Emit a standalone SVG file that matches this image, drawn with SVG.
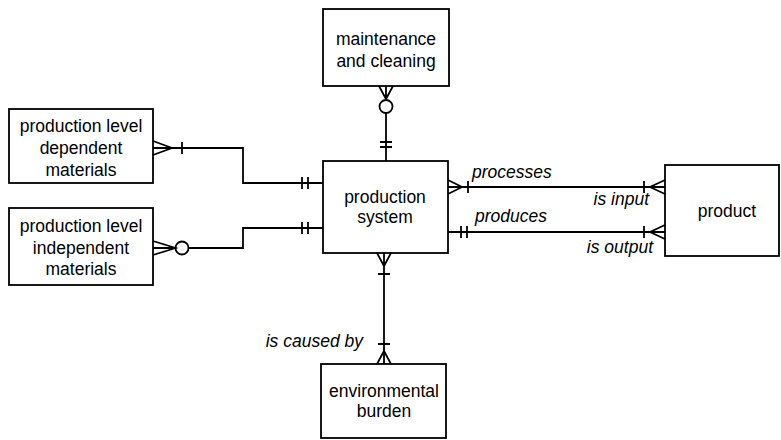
<svg xmlns="http://www.w3.org/2000/svg" width="781" height="440" viewBox="0 0 781 440">
  <style>
    .box { fill: #fff; stroke: #000; stroke-width: 1.8; }
    .ln { fill: none; stroke: #000; stroke-width: 1.8; }
    .lbl { font-family: "Liberation Sans", Arial, sans-serif; font-size: 17.5px; fill: #000; text-anchor: middle; }
    .rel { font-family: "Liberation Sans", Arial, sans-serif; font-size: 17.5px; font-style: italic; fill: #000; }
  </style>
  <rect width="781" height="440" fill="#fff"/>

  <!-- entities -->
  <g id="maintenance">
    <rect class="box" x="323" y="9" width="126" height="77"/>
    <text class="lbl" x="386" y="45">maintenance</text>
    <text class="lbl" x="386" y="67">and cleaning</text>
  </g>
  <g id="dependent-materials">
    <rect class="box" x="9" y="109" width="144" height="74"/>
    <text class="lbl" x="81" y="132">production level</text>
    <text class="lbl" x="81" y="154">dependent</text>
    <text class="lbl" x="81" y="176">materials</text>
  </g>
  <g id="independent-materials">
    <rect class="box" x="9" y="208" width="144" height="77"/>
    <text class="lbl" x="81" y="232">production level</text>
    <text class="lbl" x="81" y="253.5">independent</text>
    <text class="lbl" x="81" y="275">materials</text>
  </g>
  <g id="production-system">
    <rect class="box" x="323" y="161" width="125" height="92"/>
    <text class="lbl" x="385" y="203">production</text>
    <text class="lbl" x="385" y="223">system</text>
  </g>
  <g id="product">
    <rect class="box" x="665" y="165" width="114" height="91"/>
    <text class="lbl" x="727" y="217">product</text>
  </g>
  <g id="environmental-burden">
    <rect class="box" x="321" y="364" width="125" height="74"/>
    <text class="lbl" x="384" y="397">environmental</text>
    <text class="lbl" x="384" y="417">burden</text>
  </g>

  <!-- relationships -->
  <g id="connectors">
    <!-- maintenance to production system -->
    <path class="ln" d="M379,86 L386,99 L393,86 M386,86 V99"/>
    <circle class="ln" cx="386" cy="106.5" r="6.5"/>
    <path class="ln" d="M386,113 V161 M380,142 H392 M380,147 H392"/>

    <!-- dependent materials to production system -->
    <path class="ln" d="M153,141 L172,148 L153,155 M153,148 H172"/>
    <path class="ln" d="M172,148 H243 V183 H323 M182,142 V154 M302,177 V189 M308,177 V189"/>

    <!-- independent materials to production system -->
    <path class="ln" d="M153,241 L175.5,248 L153,255 M153,248 H175.5"/>
    <circle class="ln" cx="182" cy="248" r="6.5"/>
    <path class="ln" d="M188.5,248 H243 V228 H323 M302,222 V234 M308,222 V234"/>

    <!-- processes / is input -->
    <path class="ln" d="M448,180 L462,187 L448,194 M448,187 H665 M468,181 V193"/>
    <path class="ln" d="M665,180 L650,187 L665,194 M644,181 V193"/>

    <!-- produces / is output -->
    <path class="ln" d="M448,232 H665 M461,226 V238 M467,226 V238"/>
    <path class="ln" d="M665,225 L650,232 L665,239 M644,226 V238"/>

    <!-- production system to environmental burden -->
    <path class="ln" d="M377,253 L384,266 L391,253 M384,253 V364 M378,274 H390 M378,344 H390"/>
    <path class="ln" d="M377,364 L384,351 L391,364"/>
  </g>

  <!-- relationship labels -->
  <g id="labels">
    <text class="rel" x="472" y="178">processes</text>
    <text class="rel" x="649" y="205" text-anchor="end">is input</text>
    <text class="rel" x="475" y="222">produces</text>
    <text class="rel" x="653" y="253" text-anchor="end">is output</text>
    <text class="rel" x="363" y="347" text-anchor="end">is caused by</text>
  </g>
</svg>
